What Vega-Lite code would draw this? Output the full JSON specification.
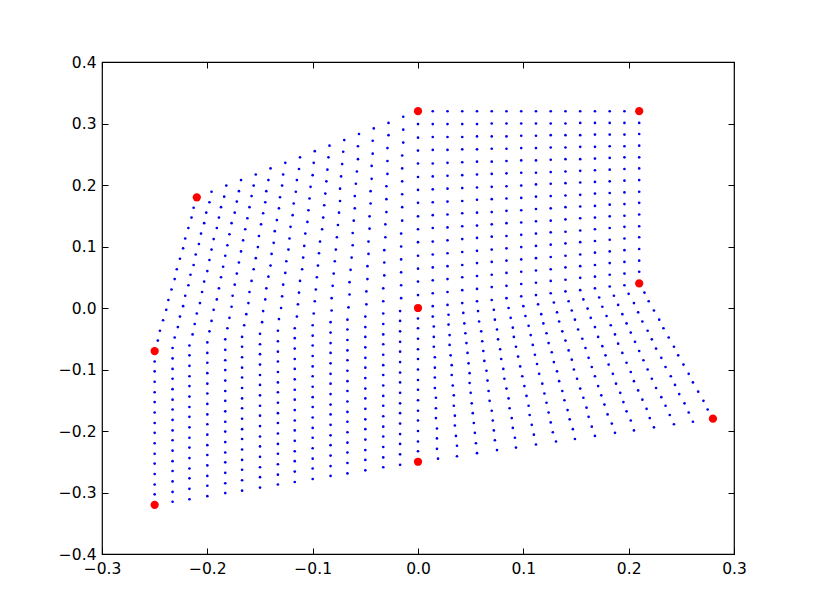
{
"$schema": "https://vega.github.io/schema/vega-lite/v6.json",
"width": 632,
"height": 492,
"autosize": {"type": "none"},
"padding": {"left": 102, "top": 62, "right": 81, "bottom": 61},
"background": "white",
"config": {
  "view": {"stroke": "black", "strokeWidth": 1.2},
  "axis": {"labelFont": "DejaVu Sans", "labelFontSize": 15.5, "labelColor": "black", "tickColor": "black", "tickWidth": 1, "domain": false, "grid": false, "labelFlush": false, "labelOverlap": false}
},
"datasets": {
"grid": [
{"x":-0.25,"y":-0.32},{"x":-0.25,"y":-0.303},{"x":-0.25,"y":-0.287},{"x":-0.25,"y":-0.27},{"x":-0.25,"y":-0.253},{"x":-0.25,"y":-0.237},{"x":-0.25,"y":-0.22},{"x":-0.25,"y":-0.203},{"x":-0.25,"y":-0.187},{"x":-0.25,"y":-0.17},{"x":-0.25,"y":-0.153},{"x":-0.25,"y":-0.137},{"x":-0.25,"y":-0.12},{"x":-0.25,"y":-0.103},{"x":-0.25,"y":-0.087},{"x":-0.25,"y":-0.07},
{"x":-0.247,"y":-0.053},{"x":-0.245,"y":-0.037},{"x":-0.242,"y":-0.02},{"x":-0.239,"y":-0.003},{"x":-0.237,"y":0.013},{"x":-0.234,"y":0.03},{"x":-0.231,"y":0.047},{"x":-0.229,"y":0.063},{"x":-0.226,"y":0.08},{"x":-0.223,"y":0.097},{"x":-0.221,"y":0.113},{"x":-0.218,"y":0.13},{"x":-0.215,"y":0.147},{"x":-0.213,"y":0.163},{"x":-0.21,"y":0.18},
{"x":-0.233,"y":-0.315},{"x":-0.233,"y":-0.299},{"x":-0.233,"y":-0.282},{"x":-0.233,"y":-0.265},{"x":-0.233,"y":-0.249},{"x":-0.233,"y":-0.232},{"x":-0.233,"y":-0.215},{"x":-0.233,"y":-0.199},{"x":-0.233,"y":-0.182},{"x":-0.233,"y":-0.165},{"x":-0.233,"y":-0.149},{"x":-0.233,"y":-0.132},{"x":-0.233,"y":-0.115},{"x":-0.233,"y":-0.099},{"x":-0.233,"y":-0.082},{"x":-0.233,"y":-0.065},
{"x":-0.231,"y":-0.048},{"x":-0.228,"y":-0.031},{"x":-0.226,"y":-0.014},{"x":-0.223,"y":0.003},{"x":-0.221,"y":0.02},{"x":-0.218,"y":0.037},{"x":-0.216,"y":0.054},{"x":-0.213,"y":0.07},{"x":-0.211,"y":0.087},{"x":-0.208,"y":0.104},{"x":-0.206,"y":0.121},{"x":-0.203,"y":0.138},{"x":-0.201,"y":0.155},{"x":-0.198,"y":0.172},{"x":-0.196,"y":0.189},
{"x":-0.217,"y":-0.311},{"x":-0.217,"y":-0.294},{"x":-0.217,"y":-0.277},{"x":-0.217,"y":-0.261},{"x":-0.217,"y":-0.244},{"x":-0.217,"y":-0.227},{"x":-0.217,"y":-0.211},{"x":-0.217,"y":-0.194},{"x":-0.217,"y":-0.177},{"x":-0.217,"y":-0.161},{"x":-0.217,"y":-0.144},{"x":-0.217,"y":-0.127},{"x":-0.217,"y":-0.111},{"x":-0.217,"y":-0.094},{"x":-0.217,"y":-0.077},{"x":-0.217,"y":-0.061},
{"x":-0.214,"y":-0.043},{"x":-0.212,"y":-0.026},{"x":-0.21,"y":-0.009},{"x":-0.207,"y":0.008},{"x":-0.205,"y":0.026},{"x":-0.203,"y":0.043},{"x":-0.2,"y":0.06},{"x":-0.198,"y":0.078},{"x":-0.196,"y":0.095},{"x":-0.194,"y":0.112},{"x":-0.191,"y":0.13},{"x":-0.189,"y":0.147},{"x":-0.187,"y":0.164},{"x":-0.184,"y":0.181},{"x":-0.182,"y":0.199},
{"x":-0.2,"y":-0.306},{"x":-0.2,"y":-0.289},{"x":-0.2,"y":-0.273},{"x":-0.2,"y":-0.256},{"x":-0.2,"y":-0.239},{"x":-0.2,"y":-0.223},{"x":-0.2,"y":-0.206},{"x":-0.2,"y":-0.189},{"x":-0.2,"y":-0.173},{"x":-0.2,"y":-0.156},{"x":-0.2,"y":-0.139},{"x":-0.2,"y":-0.123},{"x":-0.2,"y":-0.106},{"x":-0.2,"y":-0.089},{"x":-0.2,"y":-0.073},{"x":-0.2,"y":-0.056},
{"x":-0.198,"y":-0.038},{"x":-0.196,"y":-0.021},{"x":-0.194,"y":-0.003},{"x":-0.191,"y":0.014},{"x":-0.189,"y":0.032},{"x":-0.187,"y":0.05},{"x":-0.185,"y":0.067},{"x":-0.183,"y":0.085},{"x":-0.181,"y":0.102},{"x":-0.179,"y":0.12},{"x":-0.177,"y":0.138},{"x":-0.174,"y":0.155},{"x":-0.172,"y":0.173},{"x":-0.17,"y":0.19},{"x":-0.168,"y":0.208},
{"x":-0.183,"y":-0.301},{"x":-0.183,"y":-0.285},{"x":-0.183,"y":-0.268},{"x":-0.183,"y":-0.251},{"x":-0.183,"y":-0.235},{"x":-0.183,"y":-0.218},{"x":-0.183,"y":-0.201},{"x":-0.183,"y":-0.185},{"x":-0.183,"y":-0.168},{"x":-0.183,"y":-0.151},{"x":-0.183,"y":-0.135},{"x":-0.183,"y":-0.118},{"x":-0.183,"y":-0.101},{"x":-0.183,"y":-0.085},{"x":-0.183,"y":-0.068},{"x":-0.183,"y":-0.051},
{"x":-0.181,"y":-0.033},{"x":-0.179,"y":-0.016},{"x":-0.177,"y":0.002},{"x":-0.176,"y":0.02},{"x":-0.174,"y":0.038},{"x":-0.172,"y":0.056},{"x":-0.17,"y":0.074},{"x":-0.168,"y":0.092},{"x":-0.166,"y":0.11},{"x":-0.164,"y":0.128},{"x":-0.162,"y":0.146},{"x":-0.16,"y":0.164},{"x":-0.158,"y":0.182},{"x":-0.156,"y":0.199},{"x":-0.154,"y":0.217},
{"x":-0.167,"y":-0.297},{"x":-0.167,"y":-0.28},{"x":-0.167,"y":-0.263},{"x":-0.167,"y":-0.247},{"x":-0.167,"y":-0.23},{"x":-0.167,"y":-0.213},{"x":-0.167,"y":-0.197},{"x":-0.167,"y":-0.18},{"x":-0.167,"y":-0.163},{"x":-0.167,"y":-0.147},{"x":-0.167,"y":-0.13},{"x":-0.167,"y":-0.113},{"x":-0.167,"y":-0.097},{"x":-0.167,"y":-0.08},{"x":-0.167,"y":-0.063},{"x":-0.167,"y":-0.047},
{"x":-0.165,"y":-0.028},{"x":-0.163,"y":-0.01},{"x":-0.161,"y":0.008},{"x":-0.16,"y":0.026},{"x":-0.158,"y":0.044},{"x":-0.156,"y":0.063},{"x":-0.154,"y":0.081},{"x":-0.152,"y":0.099},{"x":-0.151,"y":0.117},{"x":-0.149,"y":0.136},{"x":-0.147,"y":0.154},{"x":-0.145,"y":0.172},{"x":-0.144,"y":0.19},{"x":-0.142,"y":0.208},{"x":-0.14,"y":0.227},
{"x":-0.15,"y":-0.292},{"x":-0.15,"y":-0.275},{"x":-0.15,"y":-0.259},{"x":-0.15,"y":-0.242},{"x":-0.15,"y":-0.225},{"x":-0.15,"y":-0.209},{"x":-0.15,"y":-0.192},{"x":-0.15,"y":-0.175},{"x":-0.15,"y":-0.159},{"x":-0.15,"y":-0.142},{"x":-0.15,"y":-0.125},{"x":-0.15,"y":-0.109},{"x":-0.15,"y":-0.092},{"x":-0.15,"y":-0.075},{"x":-0.15,"y":-0.059},{"x":-0.15,"y":-0.042},
{"x":-0.148,"y":-0.023},{"x":-0.147,"y":-0.005},{"x":-0.145,"y":0.014},{"x":-0.144,"y":0.032},{"x":-0.142,"y":0.051},{"x":-0.14,"y":0.069},{"x":-0.139,"y":0.088},{"x":-0.137,"y":0.106},{"x":-0.136,"y":0.125},{"x":-0.134,"y":0.143},{"x":-0.132,"y":0.162},{"x":-0.131,"y":0.18},{"x":-0.129,"y":0.199},{"x":-0.128,"y":0.217},{"x":-0.126,"y":0.236},
{"x":-0.133,"y":-0.287},{"x":-0.133,"y":-0.271},{"x":-0.133,"y":-0.254},{"x":-0.133,"y":-0.237},{"x":-0.133,"y":-0.221},{"x":-0.133,"y":-0.204},{"x":-0.133,"y":-0.187},{"x":-0.133,"y":-0.171},{"x":-0.133,"y":-0.154},{"x":-0.133,"y":-0.137},{"x":-0.133,"y":-0.121},{"x":-0.133,"y":-0.104},{"x":-0.133,"y":-0.087},{"x":-0.133,"y":-0.071},{"x":-0.133,"y":-0.054},{"x":-0.133,"y":-0.037},
{"x":-0.132,"y":-0.018},{"x":-0.13,"y":0},{"x":-0.129,"y":0.019},{"x":-0.128,"y":0.038},{"x":-0.126,"y":0.057},{"x":-0.125,"y":0.076},{"x":-0.123,"y":0.095},{"x":-0.122,"y":0.113},{"x":-0.121,"y":0.132},{"x":-0.119,"y":0.151},{"x":-0.118,"y":0.17},{"x":-0.116,"y":0.189},{"x":-0.115,"y":0.208},{"x":-0.113,"y":0.226},{"x":-0.112,"y":0.245},
{"x":-0.117,"y":-0.283},{"x":-0.117,"y":-0.266},{"x":-0.117,"y":-0.249},{"x":-0.117,"y":-0.233},{"x":-0.117,"y":-0.216},{"x":-0.117,"y":-0.199},{"x":-0.117,"y":-0.183},{"x":-0.117,"y":-0.166},{"x":-0.117,"y":-0.149},{"x":-0.117,"y":-0.133},{"x":-0.117,"y":-0.116},{"x":-0.117,"y":-0.099},{"x":-0.117,"y":-0.083},{"x":-0.117,"y":-0.066},{"x":-0.117,"y":-0.049},{"x":-0.117,"y":-0.033},
{"x":-0.115,"y":-0.014},{"x":-0.114,"y":0.006},{"x":-0.113,"y":0.025},{"x":-0.112,"y":0.044},{"x":-0.11,"y":0.063},{"x":-0.109,"y":0.082},{"x":-0.108,"y":0.101},{"x":-0.107,"y":0.121},{"x":-0.105,"y":0.14},{"x":-0.104,"y":0.159},{"x":-0.103,"y":0.178},{"x":-0.102,"y":0.197},{"x":-0.1,"y":0.216},{"x":-0.099,"y":0.236},{"x":-0.098,"y":0.255},
{"x":-0.1,"y":-0.278},{"x":-0.1,"y":-0.261},{"x":-0.1,"y":-0.245},{"x":-0.1,"y":-0.228},{"x":-0.1,"y":-0.211},{"x":-0.1,"y":-0.195},{"x":-0.1,"y":-0.178},{"x":-0.1,"y":-0.161},{"x":-0.1,"y":-0.145},{"x":-0.1,"y":-0.128},{"x":-0.1,"y":-0.111},{"x":-0.1,"y":-0.095},{"x":-0.1,"y":-0.078},{"x":-0.1,"y":-0.061},{"x":-0.1,"y":-0.045},{"x":-0.1,"y":-0.028},
{"x":-0.099,"y":-0.009},{"x":-0.098,"y":0.011},{"x":-0.097,"y":0.03},{"x":-0.096,"y":0.05},{"x":-0.095,"y":0.069},{"x":-0.094,"y":0.089},{"x":-0.093,"y":0.108},{"x":-0.091,"y":0.128},{"x":-0.09,"y":0.147},{"x":-0.089,"y":0.167},{"x":-0.088,"y":0.186},{"x":-0.087,"y":0.206},{"x":-0.086,"y":0.225},{"x":-0.085,"y":0.245},{"x":-0.084,"y":0.264},
{"x":-0.083,"y":-0.273},{"x":-0.083,"y":-0.257},{"x":-0.083,"y":-0.24},{"x":-0.083,"y":-0.223},{"x":-0.083,"y":-0.207},{"x":-0.083,"y":-0.19},{"x":-0.083,"y":-0.173},{"x":-0.083,"y":-0.157},{"x":-0.083,"y":-0.14},{"x":-0.083,"y":-0.123},{"x":-0.083,"y":-0.107},{"x":-0.083,"y":-0.09},{"x":-0.083,"y":-0.073},{"x":-0.083,"y":-0.057},{"x":-0.083,"y":-0.04},{"x":-0.083,"y":-0.023},
{"x":-0.082,"y":-0.004},{"x":-0.082,"y":0.016},{"x":-0.081,"y":0.036},{"x":-0.08,"y":0.056},{"x":-0.079,"y":0.076},{"x":-0.078,"y":0.095},{"x":-0.077,"y":0.115},{"x":-0.076,"y":0.135},{"x":-0.075,"y":0.155},{"x":-0.074,"y":0.174},{"x":-0.074,"y":0.194},{"x":-0.073,"y":0.214},{"x":-0.072,"y":0.234},{"x":-0.071,"y":0.254},{"x":-0.07,"y":0.273},
{"x":-0.067,"y":-0.269},{"x":-0.067,"y":-0.252},{"x":-0.067,"y":-0.235},{"x":-0.067,"y":-0.219},{"x":-0.067,"y":-0.202},{"x":-0.067,"y":-0.185},{"x":-0.067,"y":-0.169},{"x":-0.067,"y":-0.152},{"x":-0.067,"y":-0.135},{"x":-0.067,"y":-0.119},{"x":-0.067,"y":-0.102},{"x":-0.067,"y":-0.085},{"x":-0.067,"y":-0.069},{"x":-0.067,"y":-0.052},{"x":-0.067,"y":-0.035},{"x":-0.067,"y":-0.019},
{"x":-0.066,"y":0.001},{"x":-0.065,"y":0.022},{"x":-0.065,"y":0.042},{"x":-0.064,"y":0.062},{"x":-0.063,"y":0.082},{"x":-0.062,"y":0.102},{"x":-0.062,"y":0.122},{"x":-0.061,"y":0.142},{"x":-0.06,"y":0.162},{"x":-0.06,"y":0.182},{"x":-0.059,"y":0.202},{"x":-0.058,"y":0.222},{"x":-0.057,"y":0.242},{"x":-0.057,"y":0.263},{"x":-0.056,"y":0.283},
{"x":-0.05,"y":-0.264},{"x":-0.05,"y":-0.247},{"x":-0.05,"y":-0.231},{"x":-0.05,"y":-0.214},{"x":-0.05,"y":-0.197},{"x":-0.05,"y":-0.181},{"x":-0.05,"y":-0.164},{"x":-0.05,"y":-0.147},{"x":-0.05,"y":-0.131},{"x":-0.05,"y":-0.114},{"x":-0.05,"y":-0.097},{"x":-0.05,"y":-0.081},{"x":-0.05,"y":-0.064},{"x":-0.05,"y":-0.047},{"x":-0.05,"y":-0.031},{"x":-0.05,"y":-0.014},
{"x":-0.049,"y":0.006},{"x":-0.049,"y":0.027},{"x":-0.048,"y":0.047},{"x":-0.048,"y":0.068},{"x":-0.047,"y":0.088},{"x":-0.047,"y":0.108},{"x":-0.046,"y":0.129},{"x":-0.046,"y":0.149},{"x":-0.045,"y":0.17},{"x":-0.045,"y":0.19},{"x":-0.044,"y":0.21},{"x":-0.044,"y":0.231},{"x":-0.043,"y":0.251},{"x":-0.043,"y":0.272},{"x":-0.042,"y":0.292},
{"x":-0.033,"y":-0.259},{"x":-0.033,"y":-0.243},{"x":-0.033,"y":-0.226},{"x":-0.033,"y":-0.209},{"x":-0.033,"y":-0.193},{"x":-0.033,"y":-0.176},{"x":-0.033,"y":-0.159},{"x":-0.033,"y":-0.143},{"x":-0.033,"y":-0.126},{"x":-0.033,"y":-0.109},{"x":-0.033,"y":-0.093},{"x":-0.033,"y":-0.076},{"x":-0.033,"y":-0.059},{"x":-0.033,"y":-0.043},{"x":-0.033,"y":-0.026},{"x":-0.033,"y":-0.009},
{"x":-0.033,"y":0.011},{"x":-0.033,"y":0.032},{"x":-0.032,"y":0.053},{"x":-0.032,"y":0.074},{"x":-0.032,"y":0.094},{"x":-0.031,"y":0.115},{"x":-0.031,"y":0.136},{"x":-0.03,"y":0.156},{"x":-0.03,"y":0.177},{"x":-0.03,"y":0.198},{"x":-0.029,"y":0.218},{"x":-0.029,"y":0.239},{"x":-0.029,"y":0.26},{"x":-0.028,"y":0.281},{"x":-0.028,"y":0.301},
{"x":-0.017,"y":-0.255},{"x":-0.017,"y":-0.238},{"x":-0.017,"y":-0.221},{"x":-0.017,"y":-0.205},{"x":-0.017,"y":-0.188},{"x":-0.017,"y":-0.171},{"x":-0.017,"y":-0.155},{"x":-0.017,"y":-0.138},{"x":-0.017,"y":-0.121},{"x":-0.017,"y":-0.105},{"x":-0.017,"y":-0.088},{"x":-0.017,"y":-0.071},{"x":-0.017,"y":-0.055},{"x":-0.017,"y":-0.038},{"x":-0.017,"y":-0.021},{"x":-0.017,"y":-0.005},
{"x":-0.016,"y":0.016},{"x":-0.016,"y":0.037},{"x":-0.016,"y":0.058},{"x":-0.016,"y":0.079},{"x":-0.016,"y":0.1},{"x":-0.016,"y":0.121},{"x":-0.015,"y":0.142},{"x":-0.015,"y":0.164},{"x":-0.015,"y":0.185},{"x":-0.015,"y":0.206},{"x":-0.015,"y":0.227},{"x":-0.015,"y":0.248},{"x":-0.014,"y":0.269},{"x":-0.014,"y":0.29},{"x":-0.014,"y":0.311},
{"x":0,"y":-0.25},{"x":0,"y":-0.233},{"x":0,"y":-0.217},{"x":0,"y":-0.2},{"x":0,"y":-0.183},{"x":0,"y":-0.167},{"x":0,"y":-0.15},{"x":0,"y":-0.133},{"x":0,"y":-0.117},{"x":0,"y":-0.1},{"x":0,"y":-0.083},{"x":0,"y":-0.067},{"x":0,"y":-0.05},{"x":0,"y":-0.033},{"x":0,"y":-0.017},{"x":0,"y":0},
{"x":0,"y":0.021},{"x":0,"y":0.043},{"x":0,"y":0.064},{"x":0,"y":0.085},{"x":0,"y":0.107},{"x":0,"y":0.128},{"x":0,"y":0.149},{"x":0,"y":0.171},{"x":0,"y":0.192},{"x":0,"y":0.213},{"x":0,"y":0.235},{"x":0,"y":0.256},{"x":0,"y":0.277},{"x":0,"y":0.299},{"x":0,"y":0.32},
{"x":0.019,"y":-0.245},{"x":0.018,"y":-0.229},{"x":0.018,"y":-0.212},{"x":0.018,"y":-0.196},{"x":0.017,"y":-0.179},{"x":0.017,"y":-0.163},{"x":0.017,"y":-0.146},{"x":0.016,"y":-0.13},{"x":0.016,"y":-0.113},{"x":0.016,"y":-0.097},{"x":0.016,"y":-0.08},{"x":0.015,"y":-0.063},{"x":0.015,"y":-0.047},{"x":0.015,"y":-0.03},{"x":0.014,"y":-0.014},{"x":0.014,"y":0.003},
{"x":0.014,"y":0.024},{"x":0.014,"y":0.045},{"x":0.014,"y":0.066},{"x":0.014,"y":0.087},{"x":0.014,"y":0.108},{"x":0.014,"y":0.13},{"x":0.014,"y":0.151},{"x":0.014,"y":0.172},{"x":0.014,"y":0.193},{"x":0.014,"y":0.214},{"x":0.014,"y":0.235},{"x":0.014,"y":0.257},{"x":0.014,"y":0.278},{"x":0.014,"y":0.299},{"x":0.014,"y":0.32},
{"x":0.037,"y":-0.241},{"x":0.037,"y":-0.224},{"x":0.036,"y":-0.208},{"x":0.035,"y":-0.191},{"x":0.035,"y":-0.175},{"x":0.034,"y":-0.159},{"x":0.034,"y":-0.142},{"x":0.033,"y":-0.126},{"x":0.032,"y":-0.109},{"x":0.032,"y":-0.093},{"x":0.031,"y":-0.077},{"x":0.03,"y":-0.06},{"x":0.03,"y":-0.044},{"x":0.029,"y":-0.027},{"x":0.029,"y":-0.011},{"x":0.028,"y":0.005},
{"x":0.028,"y":0.026},{"x":0.028,"y":0.047},{"x":0.028,"y":0.068},{"x":0.028,"y":0.089},{"x":0.028,"y":0.11},{"x":0.028,"y":0.131},{"x":0.028,"y":0.152},{"x":0.028,"y":0.173},{"x":0.028,"y":0.194},{"x":0.028,"y":0.215},{"x":0.028,"y":0.236},{"x":0.028,"y":0.257},{"x":0.028,"y":0.278},{"x":0.028,"y":0.299},{"x":0.028,"y":0.32},
{"x":0.056,"y":-0.236},{"x":0.055,"y":-0.22},{"x":0.054,"y":-0.203},{"x":0.053,"y":-0.187},{"x":0.052,"y":-0.171},{"x":0.051,"y":-0.155},{"x":0.05,"y":-0.138},{"x":0.049,"y":-0.122},{"x":0.049,"y":-0.106},{"x":0.048,"y":-0.09},{"x":0.047,"y":-0.073},{"x":0.046,"y":-0.057},{"x":0.045,"y":-0.041},{"x":0.044,"y":-0.025},{"x":0.043,"y":-0.008},{"x":0.042,"y":0.008},
{"x":0.042,"y":0.029},{"x":0.042,"y":0.05},{"x":0.042,"y":0.07},{"x":0.042,"y":0.091},{"x":0.042,"y":0.112},{"x":0.042,"y":0.133},{"x":0.042,"y":0.154},{"x":0.042,"y":0.174},{"x":0.042,"y":0.195},{"x":0.042,"y":0.216},{"x":0.042,"y":0.237},{"x":0.042,"y":0.258},{"x":0.042,"y":0.278},{"x":0.042,"y":0.299},{"x":0.042,"y":0.32},
{"x":0.075,"y":-0.231},{"x":0.073,"y":-0.215},{"x":0.072,"y":-0.199},{"x":0.071,"y":-0.183},{"x":0.07,"y":-0.167},{"x":0.068,"y":-0.151},{"x":0.067,"y":-0.135},{"x":0.066,"y":-0.118},{"x":0.065,"y":-0.102},{"x":0.063,"y":-0.086},{"x":0.062,"y":-0.07},{"x":0.061,"y":-0.054},{"x":0.06,"y":-0.038},{"x":0.058,"y":-0.022},{"x":0.057,"y":-0.005},{"x":0.056,"y":0.011},
{"x":0.056,"y":0.031},{"x":0.056,"y":0.052},{"x":0.056,"y":0.073},{"x":0.056,"y":0.093},{"x":0.056,"y":0.114},{"x":0.056,"y":0.134},{"x":0.056,"y":0.155},{"x":0.056,"y":0.176},{"x":0.056,"y":0.196},{"x":0.056,"y":0.217},{"x":0.056,"y":0.238},{"x":0.056,"y":0.258},{"x":0.056,"y":0.279},{"x":0.056,"y":0.299},{"x":0.056,"y":0.32},
{"x":0.093,"y":-0.227},{"x":0.092,"y":-0.211},{"x":0.09,"y":-0.195},{"x":0.089,"y":-0.179},{"x":0.087,"y":-0.163},{"x":0.086,"y":-0.147},{"x":0.084,"y":-0.131},{"x":0.082,"y":-0.115},{"x":0.081,"y":-0.099},{"x":0.079,"y":-0.083},{"x":0.078,"y":-0.067},{"x":0.076,"y":-0.051},{"x":0.075,"y":-0.035},{"x":0.073,"y":-0.019},{"x":0.072,"y":-0.003},{"x":0.07,"y":0.013},
{"x":0.07,"y":0.034},{"x":0.07,"y":0.054},{"x":0.07,"y":0.075},{"x":0.07,"y":0.095},{"x":0.07,"y":0.116},{"x":0.07,"y":0.136},{"x":0.07,"y":0.156},{"x":0.07,"y":0.177},{"x":0.07,"y":0.197},{"x":0.07,"y":0.218},{"x":0.07,"y":0.238},{"x":0.07,"y":0.259},{"x":0.07,"y":0.279},{"x":0.07,"y":0.3},{"x":0.07,"y":0.32},
{"x":0.112,"y":-0.222},{"x":0.11,"y":-0.206},{"x":0.108,"y":-0.19},{"x":0.106,"y":-0.174},{"x":0.105,"y":-0.159},{"x":0.103,"y":-0.143},{"x":0.101,"y":-0.127},{"x":0.099,"y":-0.111},{"x":0.097,"y":-0.095},{"x":0.095,"y":-0.079},{"x":0.093,"y":-0.063},{"x":0.091,"y":-0.047},{"x":0.09,"y":-0.032},{"x":0.088,"y":-0.016},{"x":0.086,"y":0},{"x":0.084,"y":0.016},
{"x":0.084,"y":0.036},{"x":0.084,"y":0.057},{"x":0.084,"y":0.077},{"x":0.084,"y":0.097},{"x":0.084,"y":0.117},{"x":0.084,"y":0.138},{"x":0.084,"y":0.158},{"x":0.084,"y":0.178},{"x":0.084,"y":0.198},{"x":0.084,"y":0.219},{"x":0.084,"y":0.239},{"x":0.084,"y":0.259},{"x":0.084,"y":0.279},{"x":0.084,"y":0.3},{"x":0.084,"y":0.32},
{"x":0.131,"y":-0.217},{"x":0.128,"y":-0.202},{"x":0.126,"y":-0.186},{"x":0.124,"y":-0.17},{"x":0.122,"y":-0.154},{"x":0.12,"y":-0.139},{"x":0.118,"y":-0.123},{"x":0.115,"y":-0.107},{"x":0.113,"y":-0.091},{"x":0.111,"y":-0.076},{"x":0.109,"y":-0.06},{"x":0.107,"y":-0.044},{"x":0.105,"y":-0.029},{"x":0.102,"y":-0.013},{"x":0.1,"y":0.003},{"x":0.098,"y":0.019},
{"x":0.098,"y":0.039},{"x":0.098,"y":0.059},{"x":0.098,"y":0.079},{"x":0.098,"y":0.099},{"x":0.098,"y":0.119},{"x":0.098,"y":0.139},{"x":0.098,"y":0.159},{"x":0.098,"y":0.179},{"x":0.098,"y":0.199},{"x":0.098,"y":0.22},{"x":0.098,"y":0.24},{"x":0.098,"y":0.26},{"x":0.098,"y":0.28},{"x":0.098,"y":0.3},{"x":0.098,"y":0.32},
{"x":0.149,"y":-0.213},{"x":0.147,"y":-0.197},{"x":0.144,"y":-0.181},{"x":0.142,"y":-0.166},{"x":0.139,"y":-0.15},{"x":0.137,"y":-0.135},{"x":0.134,"y":-0.119},{"x":0.132,"y":-0.103},{"x":0.129,"y":-0.088},{"x":0.127,"y":-0.072},{"x":0.124,"y":-0.057},{"x":0.122,"y":-0.041},{"x":0.119,"y":-0.025},{"x":0.117,"y":-0.01},{"x":0.114,"y":0.006},{"x":0.112,"y":0.021},
{"x":0.112,"y":0.041},{"x":0.112,"y":0.061},{"x":0.112,"y":0.081},{"x":0.112,"y":0.101},{"x":0.112,"y":0.121},{"x":0.112,"y":0.141},{"x":0.112,"y":0.161},{"x":0.112,"y":0.181},{"x":0.112,"y":0.201},{"x":0.112,"y":0.22},{"x":0.112,"y":0.24},{"x":0.112,"y":0.26},{"x":0.112,"y":0.28},{"x":0.112,"y":0.3},{"x":0.112,"y":0.32},
{"x":0.168,"y":-0.208},{"x":0.165,"y":-0.193},{"x":0.162,"y":-0.177},{"x":0.16,"y":-0.162},{"x":0.157,"y":-0.146},{"x":0.154,"y":-0.131},{"x":0.151,"y":-0.115},{"x":0.148,"y":-0.1},{"x":0.146,"y":-0.084},{"x":0.143,"y":-0.069},{"x":0.14,"y":-0.053},{"x":0.137,"y":-0.038},{"x":0.134,"y":-0.022},{"x":0.132,"y":-0.007},{"x":0.129,"y":0.009},{"x":0.126,"y":0.024},
{"x":0.126,"y":0.044},{"x":0.126,"y":0.063},{"x":0.126,"y":0.083},{"x":0.126,"y":0.103},{"x":0.126,"y":0.123},{"x":0.126,"y":0.142},{"x":0.126,"y":0.162},{"x":0.126,"y":0.182},{"x":0.126,"y":0.202},{"x":0.126,"y":0.221},{"x":0.126,"y":0.241},{"x":0.126,"y":0.261},{"x":0.126,"y":0.281},{"x":0.126,"y":0.3},{"x":0.126,"y":0.32},
{"x":0.187,"y":-0.203},{"x":0.184,"y":-0.188},{"x":0.18,"y":-0.173},{"x":0.177,"y":-0.157},{"x":0.174,"y":-0.142},{"x":0.171,"y":-0.127},{"x":0.168,"y":-0.111},{"x":0.165,"y":-0.096},{"x":0.162,"y":-0.081},{"x":0.159,"y":-0.065},{"x":0.156,"y":-0.05},{"x":0.152,"y":-0.035},{"x":0.149,"y":-0.019},{"x":0.146,"y":-0.004},{"x":0.143,"y":0.011},{"x":0.14,"y":0.027},
{"x":0.14,"y":0.046},{"x":0.14,"y":0.066},{"x":0.14,"y":0.085},{"x":0.14,"y":0.105},{"x":0.14,"y":0.124},{"x":0.14,"y":0.144},{"x":0.14,"y":0.164},{"x":0.14,"y":0.183},{"x":0.14,"y":0.203},{"x":0.14,"y":0.222},{"x":0.14,"y":0.242},{"x":0.14,"y":0.261},{"x":0.14,"y":0.281},{"x":0.14,"y":0.3},{"x":0.14,"y":0.32},
{"x":0.205,"y":-0.199},{"x":0.202,"y":-0.183},{"x":0.198,"y":-0.168},{"x":0.195,"y":-0.153},{"x":0.192,"y":-0.138},{"x":0.188,"y":-0.123},{"x":0.185,"y":-0.107},{"x":0.181,"y":-0.092},{"x":0.178,"y":-0.077},{"x":0.175,"y":-0.062},{"x":0.171,"y":-0.047},{"x":0.168,"y":-0.031},{"x":0.164,"y":-0.016},{"x":0.161,"y":-0.001},{"x":0.157,"y":0.014},{"x":0.154,"y":0.029},
{"x":0.154,"y":0.049},{"x":0.154,"y":0.068},{"x":0.154,"y":0.087},{"x":0.154,"y":0.107},{"x":0.154,"y":0.126},{"x":0.154,"y":0.146},{"x":0.154,"y":0.165},{"x":0.154,"y":0.184},{"x":0.154,"y":0.204},{"x":0.154,"y":0.223},{"x":0.154,"y":0.242},{"x":0.154,"y":0.262},{"x":0.154,"y":0.281},{"x":0.154,"y":0.301},{"x":0.154,"y":0.32},
{"x":0.224,"y":-0.194},{"x":0.22,"y":-0.179},{"x":0.217,"y":-0.164},{"x":0.213,"y":-0.149},{"x":0.209,"y":-0.134},{"x":0.205,"y":-0.119},{"x":0.202,"y":-0.104},{"x":0.198,"y":-0.089},{"x":0.194,"y":-0.073},{"x":0.19,"y":-0.058},{"x":0.187,"y":-0.043},{"x":0.183,"y":-0.028},{"x":0.179,"y":-0.013},{"x":0.175,"y":0.002},{"x":0.172,"y":0.017},{"x":0.168,"y":0.032},
{"x":0.168,"y":0.051},{"x":0.168,"y":0.07},{"x":0.168,"y":0.09},{"x":0.168,"y":0.109},{"x":0.168,"y":0.128},{"x":0.168,"y":0.147},{"x":0.168,"y":0.166},{"x":0.168,"y":0.186},{"x":0.168,"y":0.205},{"x":0.168,"y":0.224},{"x":0.168,"y":0.243},{"x":0.168,"y":0.262},{"x":0.168,"y":0.282},{"x":0.168,"y":0.301},{"x":0.168,"y":0.32},
{"x":0.243,"y":-0.189},{"x":0.239,"y":-0.174},{"x":0.235,"y":-0.159},{"x":0.231,"y":-0.145},{"x":0.226,"y":-0.13},{"x":0.222,"y":-0.115},{"x":0.218,"y":-0.1},{"x":0.214,"y":-0.085},{"x":0.21,"y":-0.07},{"x":0.206,"y":-0.055},{"x":0.202,"y":-0.04},{"x":0.198,"y":-0.025},{"x":0.194,"y":-0.01},{"x":0.19,"y":0.005},{"x":0.186,"y":0.02},{"x":0.182,"y":0.035},
{"x":0.182,"y":0.054},{"x":0.182,"y":0.073},{"x":0.182,"y":0.092},{"x":0.182,"y":0.111},{"x":0.182,"y":0.13},{"x":0.182,"y":0.149},{"x":0.182,"y":0.168},{"x":0.182,"y":0.187},{"x":0.182,"y":0.206},{"x":0.182,"y":0.225},{"x":0.182,"y":0.244},{"x":0.182,"y":0.263},{"x":0.182,"y":0.282},{"x":0.182,"y":0.301},{"x":0.182,"y":0.32},
{"x":0.261,"y":-0.185},{"x":0.257,"y":-0.17},{"x":0.253,"y":-0.155},{"x":0.248,"y":-0.14},{"x":0.244,"y":-0.125},{"x":0.24,"y":-0.111},{"x":0.235,"y":-0.096},{"x":0.231,"y":-0.081},{"x":0.226,"y":-0.066},{"x":0.222,"y":-0.051},{"x":0.218,"y":-0.037},{"x":0.213,"y":-0.022},{"x":0.209,"y":-0.007},{"x":0.205,"y":0.008},{"x":0.2,"y":0.023},{"x":0.196,"y":0.037},
{"x":0.196,"y":0.056},{"x":0.196,"y":0.075},{"x":0.196,"y":0.094},{"x":0.196,"y":0.113},{"x":0.196,"y":0.132},{"x":0.196,"y":0.15},{"x":0.196,"y":0.169},{"x":0.196,"y":0.188},{"x":0.196,"y":0.207},{"x":0.196,"y":0.226},{"x":0.196,"y":0.245},{"x":0.196,"y":0.263},{"x":0.196,"y":0.282},{"x":0.196,"y":0.301},{"x":0.196,"y":0.32},
{"x":0.28,"y":-0.18},{"x":0.275,"y":-0.165},{"x":0.271,"y":-0.151},{"x":0.266,"y":-0.136},{"x":0.261,"y":-0.121},{"x":0.257,"y":-0.107},{"x":0.252,"y":-0.092},{"x":0.247,"y":-0.077},{"x":0.243,"y":-0.063},{"x":0.238,"y":-0.048},{"x":0.233,"y":-0.033},{"x":0.229,"y":-0.019},{"x":0.224,"y":-0.004},{"x":0.219,"y":0.011},{"x":0.215,"y":0.025},{"x":0.21,"y":0.04},
{"x":0.21,"y":0.059},{"x":0.21,"y":0.077},{"x":0.21,"y":0.096},{"x":0.21,"y":0.115},{"x":0.21,"y":0.133},{"x":0.21,"y":0.152},{"x":0.21,"y":0.171},{"x":0.21,"y":0.189},{"x":0.21,"y":0.208},{"x":0.21,"y":0.227},{"x":0.21,"y":0.245},{"x":0.21,"y":0.264},{"x":0.21,"y":0.283},{"x":0.21,"y":0.301},{"x":0.21,"y":0.32}
],
"nodes": [
{"x":-0.25,"y":-0.32},{"x":-0.25,"y":-0.07},{"x":-0.21,"y":0.18},{"x":0,"y":0.32},{"x":0.21,"y":0.32},{"x":0.21,"y":0.04},{"x":0.28,"y":-0.18},{"x":0,"y":-0.25},{"x":0,"y":0}
]
},
"resolve": {"axis": {"x": "independent", "y": "independent"}},
"layer": [
{
  "data": {"name": "grid"},
  "mark": {"type": "circle", "size": 7, "color": "#0000ee", "opacity": 1},
  "encoding": {
    "x": {"field": "x", "type": "quantitative", "scale": {"domain": [-0.3, 0.3], "nice": false, "zero": false},
      "axis": {"orient": "bottom", "title": null, "values": [-0.3,-0.2,-0.1,0,0.1,0.2,0.3], "format": ".1f", "tickSize": -6, "labelPadding": 13}},
    "y": {"field": "y", "type": "quantitative", "scale": {"domain": [-0.4, 0.4], "nice": false, "zero": false},
      "axis": {"orient": "left", "title": null, "values": [-0.4,-0.3,-0.2,-0.1,0,0.1,0.2,0.3,0.4], "format": ".1f", "tickSize": -6, "labelPadding": 12}}
  }
},
{
  "data": {"name": "nodes"},
  "mark": {"type": "circle", "size": 68, "color": "#ff0000", "opacity": 1},
  "encoding": {
    "x": {"field": "x", "type": "quantitative",
      "axis": {"orient": "top", "title": null, "values": [-0.3,-0.2,-0.1,0,0.1,0.2,0.3], "labels": false, "tickSize": -6}},
    "y": {"field": "y", "type": "quantitative",
      "axis": {"orient": "right", "title": null, "values": [-0.4,-0.3,-0.2,-0.1,0,0.1,0.2,0.3,0.4], "labels": false, "tickSize": -6}}
  }
}
]
}
